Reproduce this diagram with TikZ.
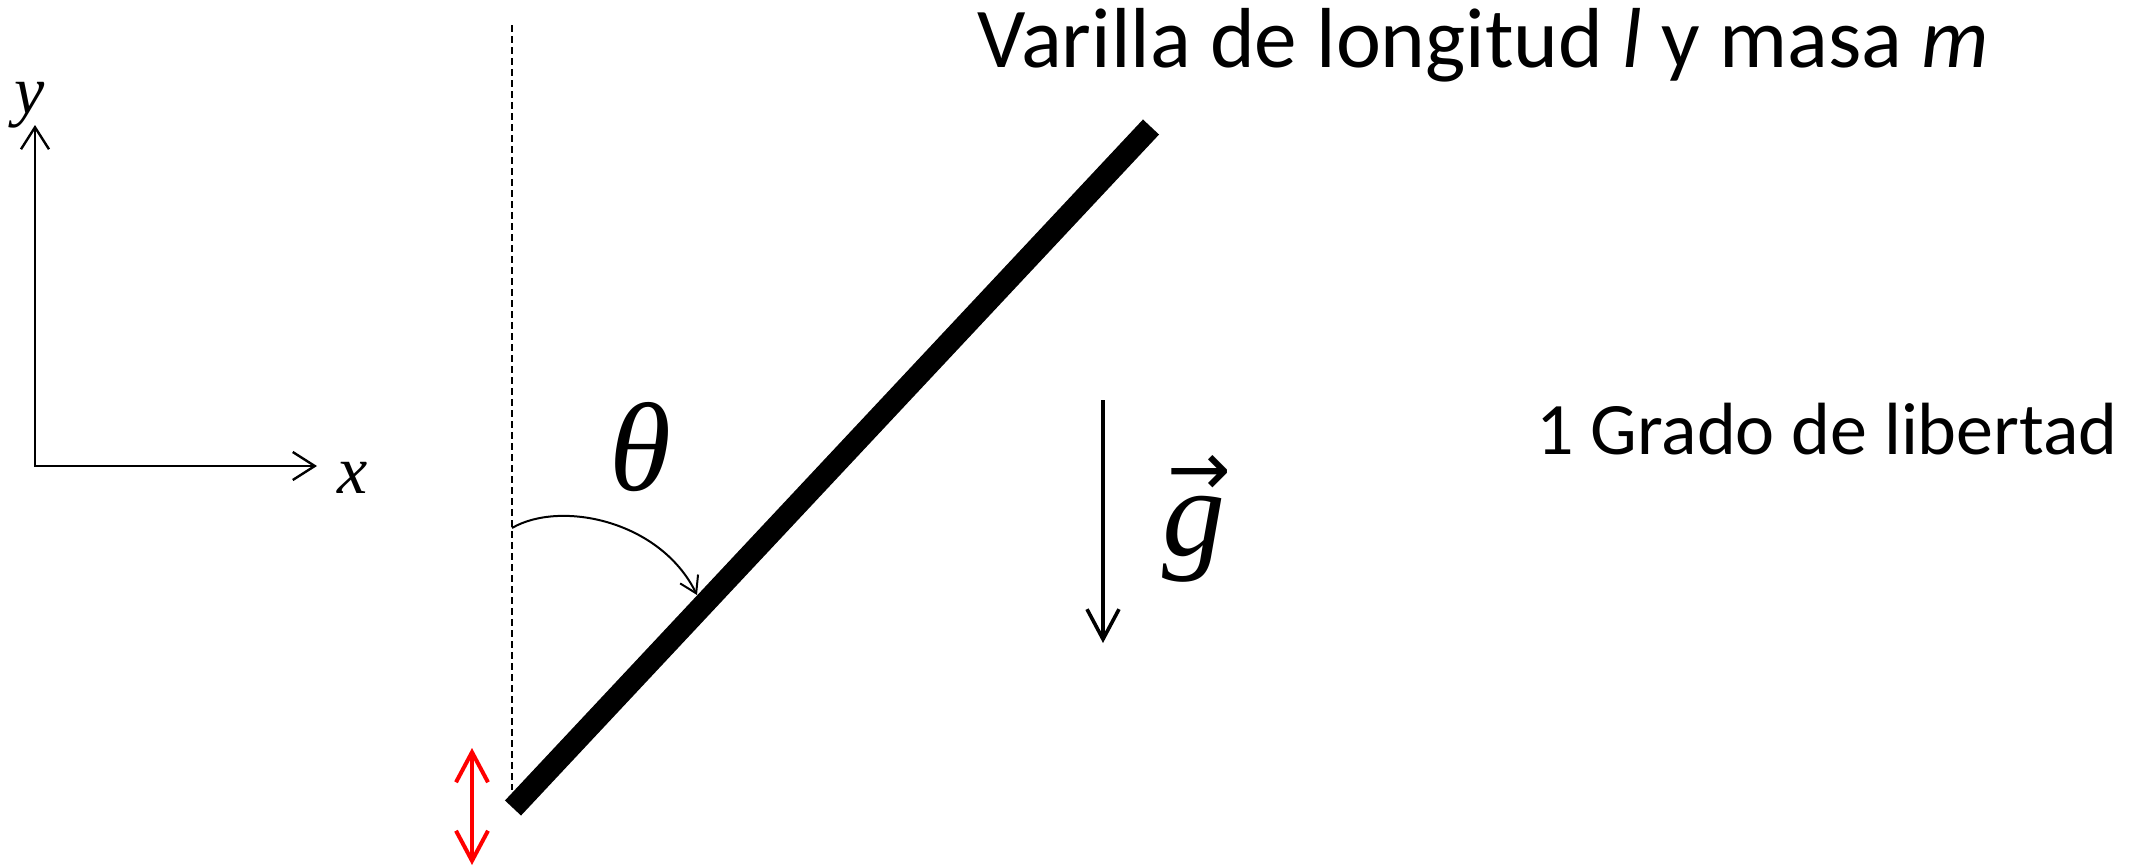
\documentclass[tikz,border=0pt]{standalone}
\usepackage{fontspec}
\setmainfont{Carlito}
\newfontfamily\symfont{Liberation Serif}
\newfontfamily\arrfont{DejaVu Sans}
\usetikzlibrary{arrows.meta}

\begin{document}
\begin{tikzpicture}[
  x=0.5pt,y=-0.5pt,
  axis/.style={{Straight Barb[length=11pt,width=14pt]}-{Straight Barb[length=11pt,width=14pt]},line width=1.2pt},
  rod/.style={line width=11pt,line cap=butt},
  vert/.style={dash pattern=on 3.5pt off 2pt,line width=0.7pt},
  grav/.style={-{Straight Barb[length=15pt,width=16pt]},line width=1.8pt},
  dof/.style={{Straight Barb[length=15pt,width=16pt]}-{Straight Barb[length=15pt,width=16pt]},line width=2pt,red},
  ang/.style={-{Straight Barb[length=8pt,width=10pt]},line width=1pt},
  sym/.style={inner sep=0pt,font=\symfont\itshape},
  txt/.style={inner sep=0pt,anchor=base west}
]
\useasboundingbox (0,0) rectangle (2142,867);

% ejes
\coordinate (O) at (35,466);
\coordinate (ytip) at (35,125);
\coordinate (xtip) at (317,466);
\draw[axis] (ytip) -- (O) -- (xtip);
\node[sym] (ylab) at (30,105) {\fontsize{34}{34}\selectfont y};
\node[sym] (xlab) at (353,478) {\fontsize{34}{34}\selectfont x};

% varilla
\coordinate (vtop) at (512,25);
\coordinate (vbot) at (512,790);
\coordinate (pivot) at (513,808);
\coordinate (rodend) at (1151,127);
\draw[vert] (vtop) -- (vbot);
\draw[rod] (pivot) -- (rodend);

% angulo
\coordinate (arcS) at (512,528);
\coordinate (arcE) at (697,595);
\draw[ang] (arcS) .. controls +(48,-28) and +(-37,-75) .. (arcE);
\node[sym] (theta) at (640,447) {\fontsize{63}{63}\selectfont θ};

% gravedad
\coordinate (gtop) at (1103,400);
\coordinate (gbot) at (1103,643);
\draw[grav] (gtop) -- (gbot);
\node[sym,anchor=base] (glab) at (1194,555)
  {\fontsize{63}{63}\selectfont g\llap{\raisebox{30pt}[0pt][0pt]{\arrfont\upshape\fontsize{38}{38}\selectfont →}\kern-3pt}};

% grado de libertad
\coordinate (dtop) at (472,748);
\coordinate (dbot) at (472,865);
\draw[dof] (dtop) -- (dbot);

\node[txt] (title) at (977,67) {\fontsize{42.6}{42.6}\selectfont Varilla de longitud \textit{l} y masa \textit{m}};
\node[txt] (gdl) at (1536,454) {\fontsize{37}{37}\selectfont 1 Grado de libertad};
\end{tikzpicture}
\end{document}
